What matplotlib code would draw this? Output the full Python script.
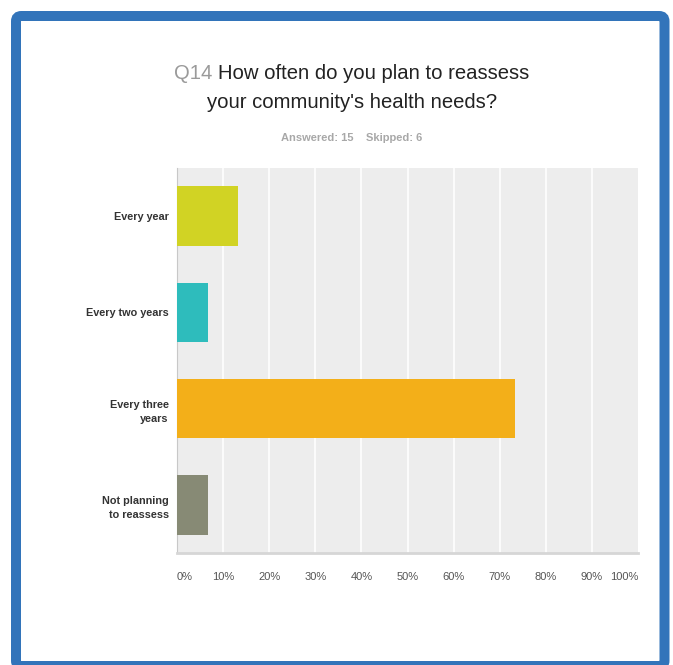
import matplotlib
matplotlib.use("Agg")
import matplotlib.pyplot as plt
from matplotlib.patches import FancyBboxPatch
from matplotlib import font_manager

categories = ["Every year", "Every two years", "Every three\nyears", "Not planning\nto reassess"]
percentages = [13.33, 6.67, 73.33, 6.67]
bar_colors = ["#D1D324", "#2EBCBC", "#F3AF19", "#878A75"]
tick_values = [0, 10, 20, 30, 40, 50, 60, 70, 80, 90, 100]
tick_labels = [f"{v}%" for v in tick_values]
question_id = "Q14"
question_lines = ["How often do you plan to reassess", "your community's health needs?"]
answered, skipped = 15, 6

names = {f.name for f in font_manager.fontManager.ttflist}
narrow = "Liberation Sans Narrow" if "Liberation Sans Narrow" in names else "Liberation Sans"
plt.rcParams["font.family"] = [narrow, "DejaVu Sans"]

W, H = 673, 665
fig = plt.figure(figsize=(W / 100, H / 100), dpi=100)
fig.patch.set_facecolor("white")

def fx(px):
    return px / W

def fy(py):
    return 1 - py / H

# blue frame around the panel
frame = FancyBboxPatch((fx(16), fy(666)), fx(664.5) - fx(16), fy(16) - fy(666),
                       boxstyle="round,pad=0,rounding_size=0.008",
                       transform=fig.transFigure, facecolor="white",
                       edgecolor="#3274BA", linewidth=7.2, zorder=-5)
fig.patches.append(frame)

# title: grey question number followed by the question text, line centred
title_size = 14.6
renderer = fig.canvas.get_renderer()
t_id = fig.text(0, fy(79), question_id + " ", color="#9A9A9A", fontsize=title_size,
                ha="left", va="baseline")
t_q = fig.text(0, fy(79), question_lines[0], color="#222222", fontsize=title_size,
               ha="left", va="baseline")
w_id = t_id.get_window_extent(renderer).width
w_q = t_q.get_window_extent(renderer).width
x0 = 352 - (w_id + w_q) / 2
t_id.set_x(fx(x0))
t_q.set_x(fx(x0 + w_id))
fig.text(fx(352), fy(108), question_lines[1], color="#222222", fontsize=title_size,
         ha="center", va="baseline")
fig.text(fx(352), fy(141), f"Answered: {answered}    Skipped: {skipped}",
         color="#A8A8A8", fontsize=8, fontweight="bold", ha="center", va="baseline")

ax = fig.add_axes([fx(177), fy(553), fx(638) - fx(177), (553 - 168) / H])
ax.set_facecolor("#EDEDED")
y = list(range(len(categories)))
ax.barh(y, percentages, height=0.62, color=bar_colors, zorder=3)
ax.set_xlim(0, 100)
ax.set_ylim(len(categories) - 0.5, -0.5)

for v in tick_values[1:-1]:
    ax.axvline(v, color="white", linewidth=1.2, zorder=1)

for side in ["top", "right"]:
    ax.spines[side].set_visible(False)
ax.spines["left"].set_color("#C8C8C8")
ax.spines["bottom"].set_color("#D6D6D6")
ax.spines["bottom"].set_linewidth(2)

ax.set_yticks(y)
ax.set_yticklabels(categories, fontsize=7.8, fontweight="bold", color="#333333",
                   linespacing=1.55, multialignment="right")
ax.tick_params(axis="y", length=0, pad=6)
ax.set_xticks(tick_values)
ax.set_xticklabels(tick_labels, fontsize=8, color="#555555")
ax.tick_params(axis="x", length=0, pad=14)
xt = ax.get_xticklabels()
xt[0].set_ha("left")
xt[-1].set_ha("right")

fig.savefig("out.png", dpi=100)
